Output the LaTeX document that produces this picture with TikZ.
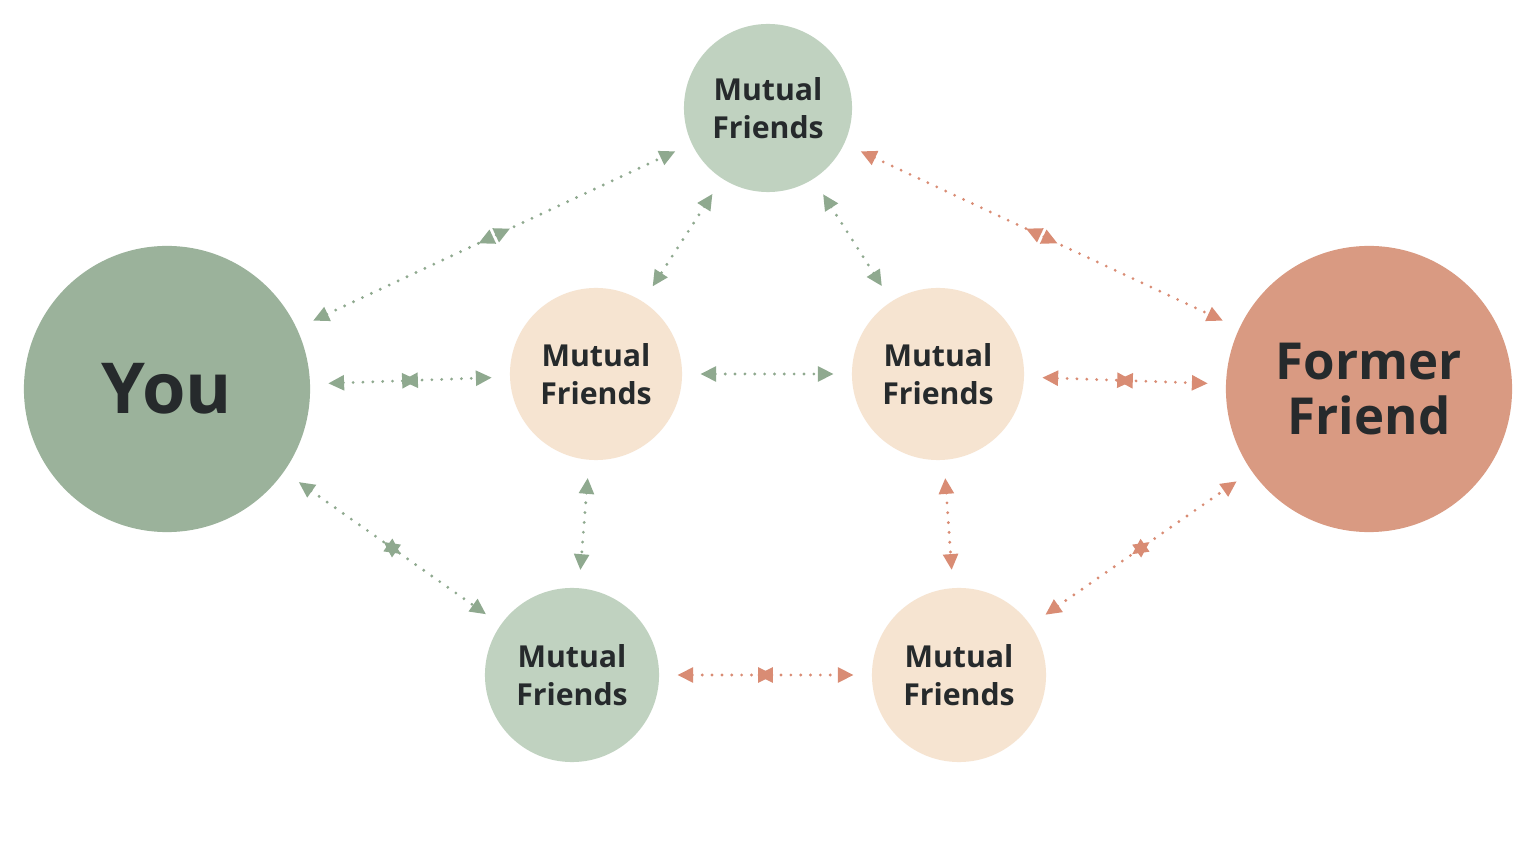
\documentclass[tikz,border=0pt]{standalone}
\usepackage{fontspec}
\setmainfont{Open Sans}
\usetikzlibrary{arrows.meta,decorations.markings}
\definecolor{sage}{HTML}{9BB29B}
\definecolor{lsage}{HTML}{C0D2C0}
\definecolor{peach}{HTML}{F6E4D1}
\definecolor{salmon}{HTML}{D99A82}
\definecolor{gline}{HTML}{8FA98F}
\definecolor{rline}{HTML}{D98C74}
\definecolor{ink}{HTML}{262A2C}

\begin{document}
\begin{tikzpicture}[x=0.01cm,y=-0.01cm,
  bnode/.style={circle,inner sep=0pt,text=ink,font=\bfseries,align=center},
  mnode/.style={bnode,minimum size=1.72cm,font=\fontsize{8.6}{10.8}\selectfont\bfseries},
  link/.style={line width=0.9pt,line cap=round,dash pattern=on 0pt off 2.8pt,
     {Triangle[length=4.5pt,width=4.2pt]}-{Triangle[length=4.5pt,width=4.2pt]},shorten <=5pt,shorten >=5pt},
  mid/.style={postaction={decorate},decoration={markings,
     mark=at position 0.46 with {\arrowreversed[#1]{Triangle[length=4.5pt,width=4.2pt]}},
     mark=at position 0.54 with {\arrow[#1]{Triangle[length=4.5pt,width=4.2pt]}}}},
  glink/.style={link,gline},
  rlink/.style={link,rline}]
    \useasboundingbox (0,0) rectangle (1536,864);
    \fill[white] (0,0) rectangle (1536,864);

    \node[bnode,fill=sage,minimum size=2.86cm,font=\fontsize{20}{22}\selectfont\bfseries] (you) at (167,389) {You};
    \node[bnode,fill=salmon,minimum size=2.86cm,font=\fontsize{14.5}{15.5}\selectfont\bfseries] (ff) at (1369,389) {Former\\Friend};
    \node[mnode,fill=lsage,minimum size=1.68cm] (top) at (768,108) {Mutual\\Friends};
    \node[mnode,fill=peach] (ml) at (596,374) {Mutual\\Friends};
    \node[mnode,fill=peach] (mr) at (938,374) {Mutual\\Friends};
    \node[mnode,fill=lsage,minimum size=1.74cm] (bl) at (572,675) {Mutual\\Friends};
    \node[mnode,fill=peach,minimum size=1.74cm] (br) at (959,675) {Mutual\\Friends};

    \draw[glink,mid=gline] (you) -- (top);
    \draw[glink,mid=gline] (you) -- (ml);
    \draw[glink,mid=gline] (you) -- (bl);
    \draw[glink] (top) -- (ml);
    \draw[glink] (top) -- (mr);
    \draw[glink] (ml) -- (mr);
    \draw[glink] (ml) -- (bl);

    \draw[rlink,mid=rline] (top) -- (ff);
    \draw[rlink,mid=rline] (mr) -- (ff);
    \draw[rlink,mid=rline] (br) -- (ff);
    \draw[rlink] (mr) -- (br);
    \draw[rlink,mid=rline] (bl) -- (br);
\end{tikzpicture}
\end{document}
